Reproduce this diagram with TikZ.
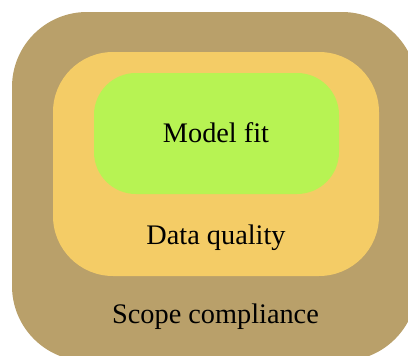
\documentclass[tikz,border=0pt]{standalone}
\usepackage{fontspec}
\setmainfont{Liberation Serif}
\usetikzlibrary{positioning}

\definecolor{scopecol}{HTML}{B9A06A}
\definecolor{datacol}{HTML}{F4CC66}
\definecolor{modelcol}{HTML}{B7F353}

\begin{document}
\begin{tikzpicture}[x=1pt, y=-1pt,
    layer/.style={inner sep=0pt, outer sep=0pt},
    tag/.style={anchor=base, inner sep=0pt, font=\fontsize{28.3}{30}\selectfont}]
    \useasboundingbox (0,0) rectangle (408,356);
    \clip (0,0) rectangle (408,356);

    % nested layers, outermost first
    \foreach \name/\cx/\cy/\w/\h/\r in {scope/214.5/186.5/405/349/75,
        data/216/164/326/224/60, model/216.5/133.5/245/121/42}
      \node[layer, fill=\name col, rounded corners=\r pt,
            minimum width=\w pt, minimum height=\h pt] (\name) at (\cx,\cy) {};

    \node[tag] (modeltag) at (216,142) {Model fit};
    \node[tag] (datatag) at (216,244) {Data quality};
    \node[tag] (scopetag) at (215.5,323) {Scope compliance};
\end{tikzpicture}
\end{document}
